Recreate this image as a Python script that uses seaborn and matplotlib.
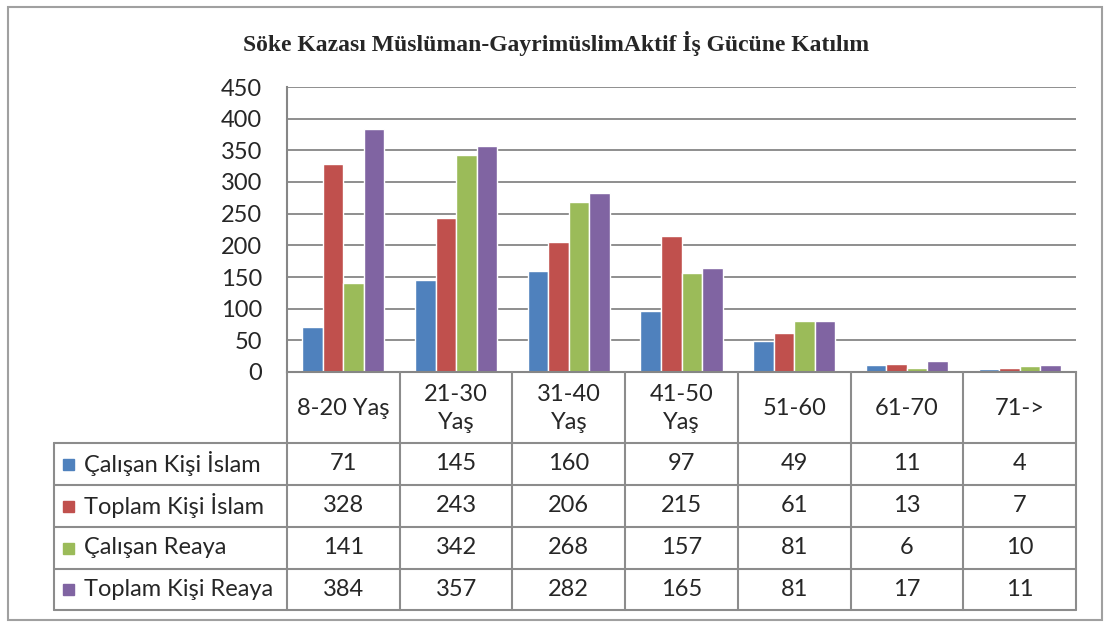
import matplotlib
matplotlib.use("Agg")
import matplotlib.pyplot as plt
import seaborn as sns
import pandas as pd
from matplotlib.lines import Line2D
from matplotlib.patches import Rectangle

# data
categories = ["8-20 Yaş", "21-30 Yaş", "31-40 Yaş", "41-50 Yaş", "51-60", "61-70", "71->"]
header_labels = ["8-20 Yaş", "21-30\nYaş", "31-40\nYaş", "41-50\nYaş", "51-60", "61-70", "71->"]
series_names = ["Çalışan Kişi İslam", "Toplam Kişi İslam", "Çalışan Reaya", "Toplam Kişi Reaya"]
calisan_islam = [71, 145, 160, 97, 49, 11, 4]
toplam_islam = [328, 243, 206, 215, 61, 13, 7]
calisan_reaya = [141, 342, 268, 157, 81, 6, 10]
toplam_reaya = [384, 357, 282, 165, 81, 17, 11]
y_ticks = list(range(0, 451, 50))
title = "Söke Kazası Müslüman-GayrimüslimAktif İş Gücüne Katılım"

colors = ["#4F81BD", "#C0504D", "#9BBB59", "#8064A2"]
grid_color = "#868686"

series_values = [calisan_islam, toplam_islam, calisan_reaya, toplam_reaya]
rows = []
for name, vals in zip(series_names, series_values):
    for cat, v in zip(categories, vals):
        rows.append({"Yaş": cat, "Kişi": v, "Seri": name})
df = pd.DataFrame(rows)

sns.set_style("white")
plt.rcParams["font.family"] = ["Lato", "DejaVu Sans"]

W_PX, H_PX = 1105, 624
fig = plt.figure(figsize=(W_PX / 100, H_PX / 100), dpi=100)


def fx(x):
    return x / W_PX


def fy(y):
    return 1 - y / H_PX


ax_left, ax_right, ax_top, ax_bottom = 287, 1076, 87, 372
ax = fig.add_axes([fx(ax_left), fy(ax_bottom), fx(ax_right - ax_left), (ax_bottom - ax_top) / H_PX])

sns.barplot(data=df, x="Yaş", y="Kişi", hue="Seri", order=categories, hue_order=series_names,
            palette=colors, width=0.73, saturation=1, legend=False, ax=ax)

ax.set_xlim(-0.5, len(categories) - 0.5)
ax.set_ylim(0, 450)
ax.set_yticks(y_ticks)
ax.set_xticks([])
ax.set_xlabel("")
ax.set_ylabel("")
ax.yaxis.grid(True, color=grid_color, lw=1.3)
ax.set_axisbelow(True)
for s in ["top", "right"]:
    ax.spines[s].set_visible(False)
for s in ["left", "bottom"]:
    ax.spines[s].set_color(grid_color)
    ax.spines[s].set_linewidth(1.5)
ax.tick_params(axis="y", length=0, pad=18, labelsize=17)

# title
fig.text(fx(556), fy(44), title, ha="center", va="center", fontsize=17, fontweight="bold",
         family=["Liberation Serif", "DejaVu Serif"])

# data table under the axis
row_lines = [372, 443, 485, 527, 569, 610]
tab_left = 54
col_w = (ax_right - ax_left) / len(categories)
col_x = [ax_left + i * col_w for i in range(len(categories) + 1)]
lc = "#8c8c8c"
fs = 17

def hline(x0, x1, y):
    fig.add_artist(Line2D([fx(x0), fx(x1)], [fy(y), fy(y)], color=lc, lw=1.5))

def vline(x, y0, y1):
    fig.add_artist(Line2D([fx(x), fx(x)], [fy(y0), fy(y1)], color=lc, lw=1.5))

for y in row_lines[1:]:
    hline(tab_left, ax_right, y)
for x in col_x:
    vline(x, row_lines[0], row_lines[-1])
vline(tab_left, row_lines[1], row_lines[-1])

for i, lab in enumerate(header_labels):
    fig.text(fx(col_x[i] + col_w / 2), fy((row_lines[0] + row_lines[1]) / 2 + 1), lab,
             ha="center", va="center", fontsize=fs, linespacing=1.45)

for r, (name, vals) in enumerate(zip(series_names, series_values)):
    yc = (row_lines[r + 1] + row_lines[r + 2]) / 2
    fig.add_artist(Rectangle((fx(63), fy(yc + 5.5)), fx(11), 11 / H_PX, color=colors[r]))
    fig.text(fx(84), fy(yc), name, ha="left", va="center", fontsize=fs)
    for i, v in enumerate(vals):
        fig.text(fx(col_x[i] + col_w / 2), fy(yc), str(v), ha="center", va="center", fontsize=fs)

# outer chart border
fig.add_artist(Rectangle((fx(8), fy(620)), fx(1094), (620 - 7) / H_PX, fill=False,
                         edgecolor="#a0a0a0", lw=1.5))

fig.savefig("out.png", dpi=100)
